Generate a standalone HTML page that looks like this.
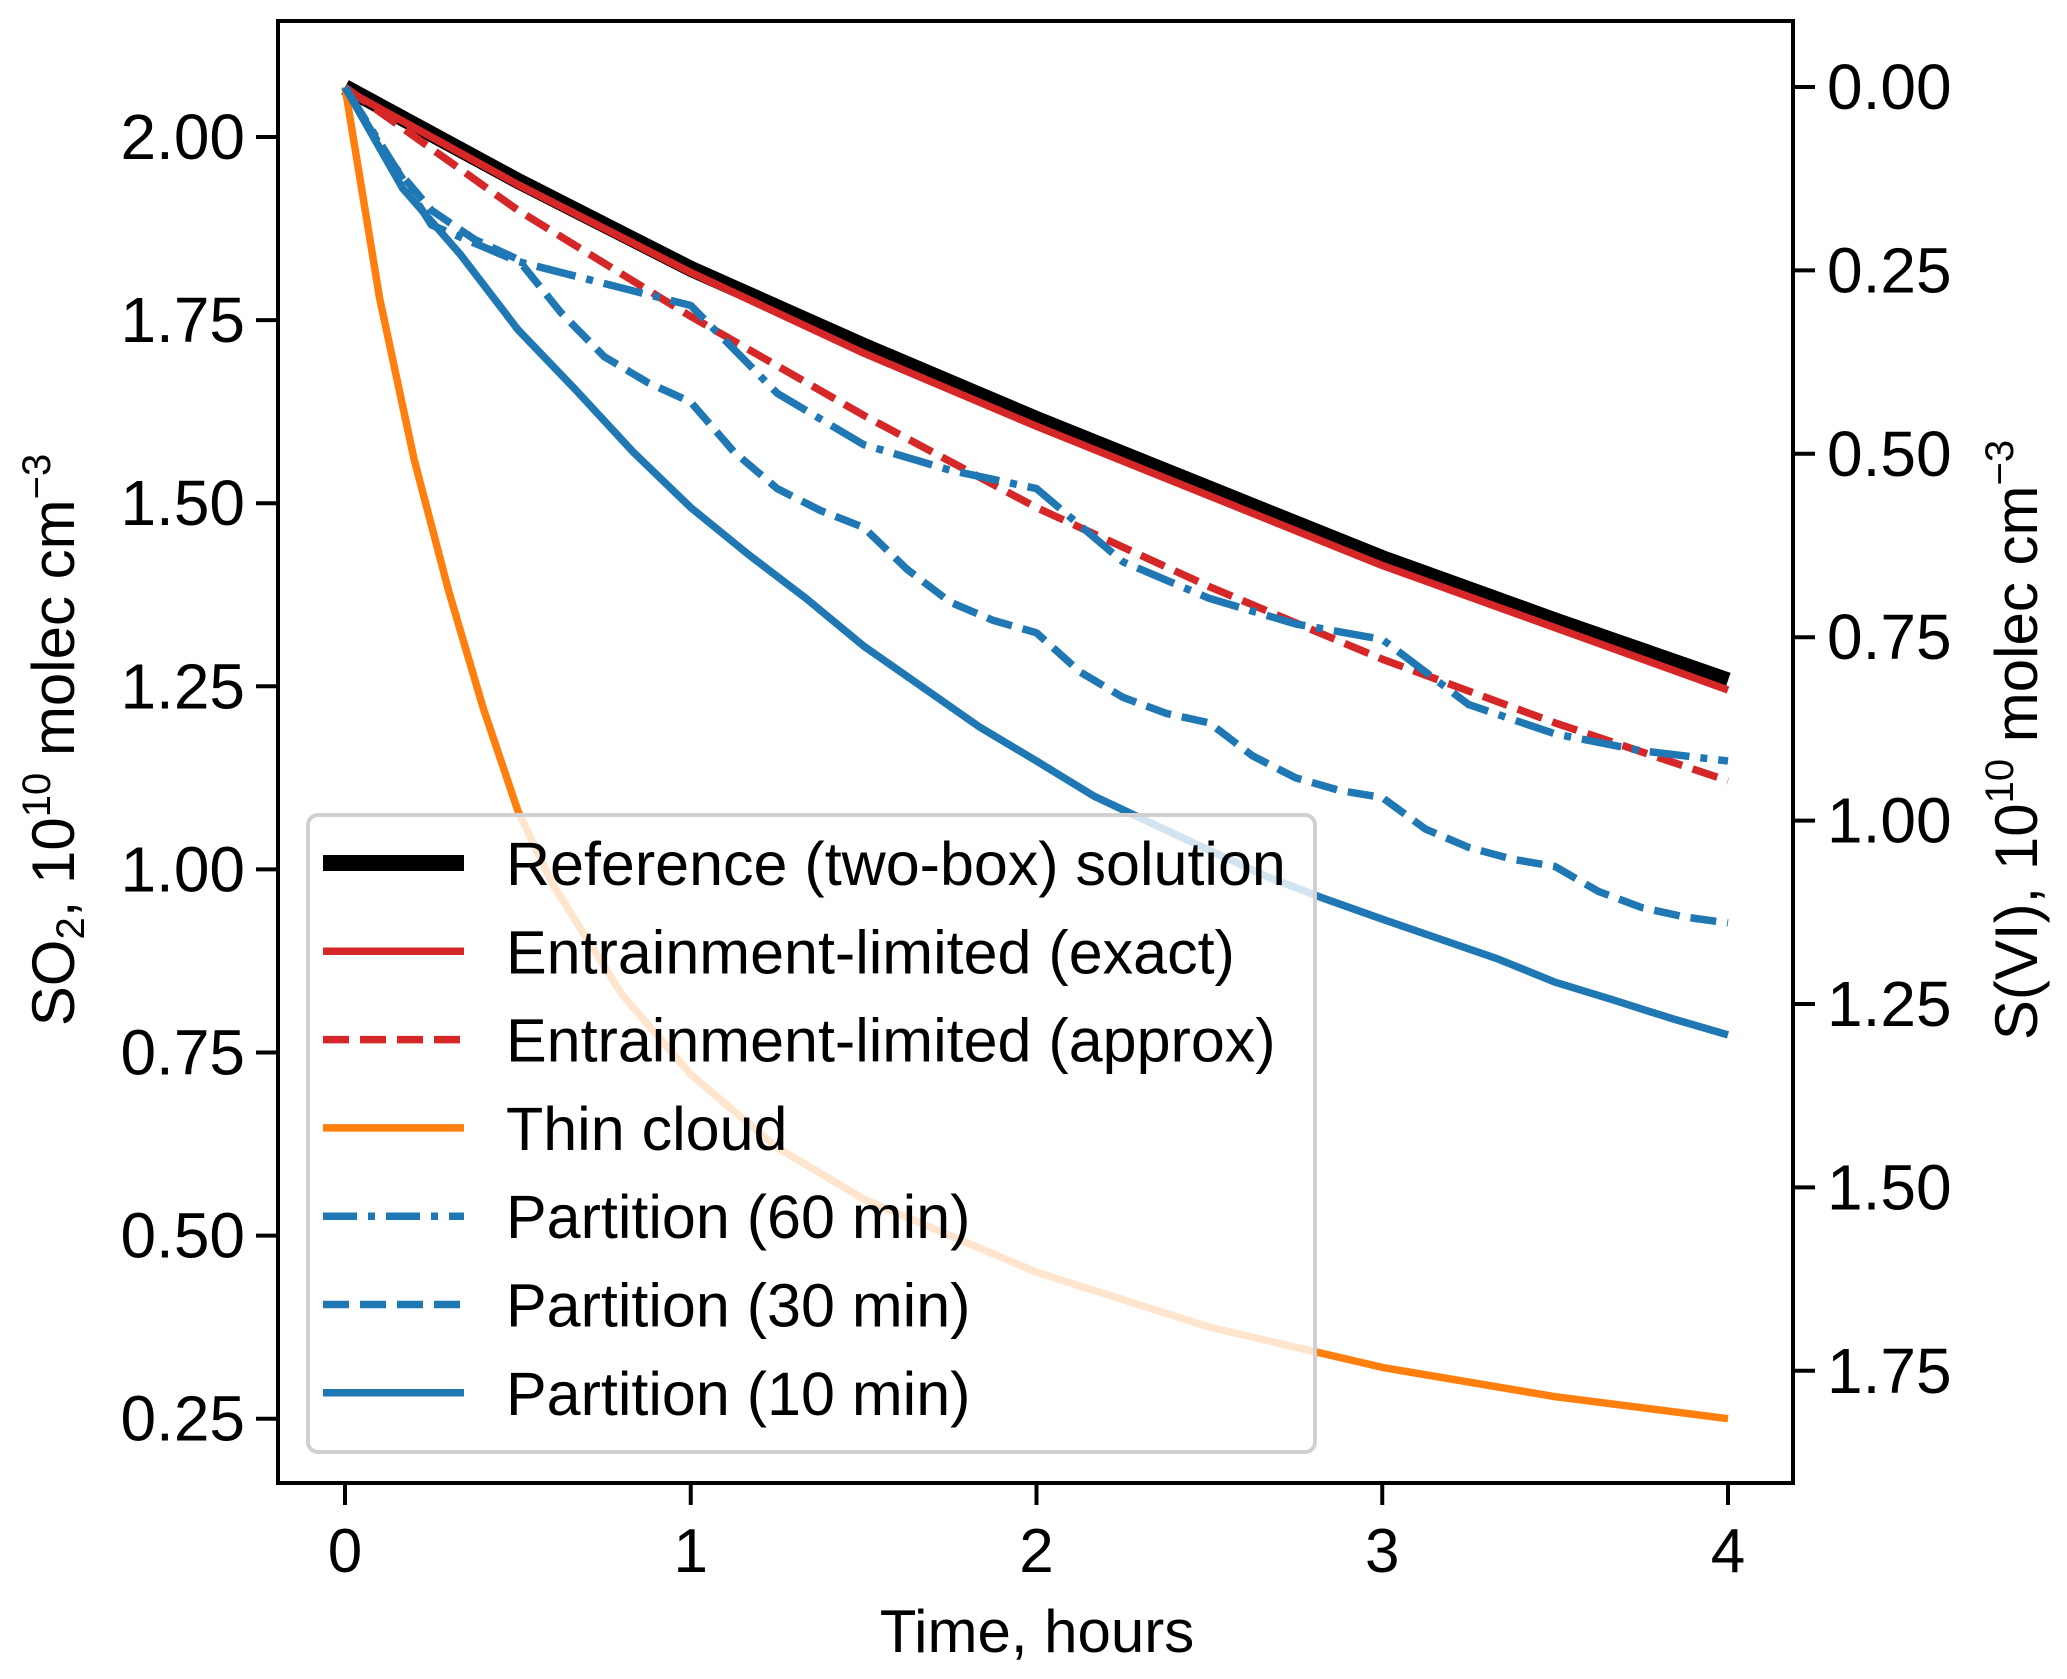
<!DOCTYPE html>
<html><head><meta charset="utf-8"><style>
html,body{margin:0;padding:0;background:#fff;}
svg{display:block;font-family:"Liberation Sans",Arial,sans-serif;}
</style></head><body>
<svg id="chart" width="2067" height="1679" viewBox="0 0 2067 1679">
<g id="plot"></g>
</svg>
<script>
// ---- data ----
const tRef = [0,0.5,1,1.5,2,2.5,3,3.5,4];
const vRef = [2.068,1.94,1.82,1.715,1.615,1.52,1.425,1.34,1.258];
const vExact = [2.065,1.935,1.815,1.705,1.605,1.51,1.415,1.33,1.245];
const vApprox = [2.068,1.90,1.755,1.62,1.494,1.386,1.287,1.20,1.121];
const tThin = [0,0.1,0.2,0.3,0.4,0.5,0.6,0.8,1,1.25,1.5,2,2.5,3,3.5,4];
const vThin = [2.068,1.78,1.56,1.38,1.22,1.08,0.98,0.83,0.72,0.62,0.55,0.45,0.375,0.32,0.28,0.25];
const t60 = [0,0.25,0.5,0.75,1,1.25,1.5,1.75,2,2.25,2.5,2.75,3,3.25,3.5,3.75,4];
const v60 = [2.068,1.88,1.83,1.80,1.77,1.65,1.58,1.545,1.52,1.42,1.37,1.335,1.314,1.225,1.185,1.162,1.148];
const t30 = [0,0.125,0.25,0.375,0.5,0.625,0.75,0.875,1,1.125,1.25,1.375,1.5,1.625,1.75,1.875,2,2.125,2.25,2.375,2.5,2.625,2.75,2.875,3,3.125,3.25,3.375,3.5,3.625,3.75,3.875,4];
const v30 = [2.068,1.97,1.90,1.86,1.833,1.76,1.70,1.665,1.638,1.57,1.52,1.49,1.467,1.41,1.365,1.34,1.323,1.27,1.235,1.213,1.2,1.155,1.125,1.108,1.098,1.055,1.03,1.014,1.004,0.97,0.948,0.935,0.927];
const t10 = [0,0.1667,0.3333,0.5,0.6667,0.8333,1,1.1667,1.3333,1.5,1.6667,1.8333,2,2.1667,2.3333,2.5,2.6667,2.8333,3,3.1667,3.3333,3.5,3.6667,3.8333,4];
const v10 = [2.068,1.93,1.84,1.737,1.655,1.57,1.494,1.43,1.37,1.305,1.25,1.195,1.148,1.10,1.063,1.026,0.99,0.96,0.932,0.905,0.878,0.846,0.822,0.797,0.774];
const xTicks = [0,1,2,3,4];
const yTicks = [2.00,1.75,1.50,1.25,1.00,0.75,0.50,0.25];
const yTicksR = [0.00,0.25,0.50,0.75,1.00,1.25,1.50,1.75];
const legendLabels = ["Reference (two-box) solution","Entrainment-limited (exact)","Entrainment-limited (approx)","Thin cloud","Partition (60 min)","Partition (30 min)","Partition (10 min)"];

// ---- axes ----
const L=278,R=1793,T=21,B=1483;
const X = t => 345 + t*345.75;
const Y = v => 137 + (2.0 - v)*732.4;
const YR = r => 87 + r*733.6;
const NS="http://www.w3.org/2000/svg";
const g=document.getElementById('plot');
function el(tag,attrs,parent){const e=document.createElementNS(NS,tag);for(const k in attrs)e.setAttribute(k,attrs[k]);(parent||g).appendChild(e);return e;}
function txt(s,attrs,parent){const e=el('text',attrs,parent);e.textContent=s;return e;}

function series(ts,vs,color,w,dash,name){
  const d=ts.map((t,i)=>(i?'L':'M')+X(t).toFixed(1)+' '+Y(vs[i]).toFixed(1)).join(' ');
  const p=el('path',{d:d,fill:'none',stroke:color,'stroke-width':w,'stroke-dasharray':dash||'none','stroke-linejoin':'round'});
  
  
}
series(tRef,vRef,'#000',16,null,'reference-line');
series(tRef,vExact,'#d62728',7.5,null,'exact-line');
series(tRef,vApprox,'#d62728',7.5,'26 11','approx-line');
series(tThin,vThin,'#ff7f0e',7.5,null,'thin-cloud-line');
series(t60,v60,'#1f77b4',7.5,'40 11 7 11','partition-60-line');
series(t30,v30,'#1f77b4',7.5,'26 11','partition-30-line');
series(t10,v10,'#1f77b4',7.5,null,'partition-10-line');

// frame
const fr=el('rect',{x:L,y:T,width:R-L,height:B-T,fill:'none',stroke:'#000','stroke-width':4});



// x ticks
xTicks.forEach(t=>{
  el('line',{x1:X(t),x2:X(t),y1:B,y2:B+22,stroke:'#000','stroke-width':4});
  const e=txt(String(t),{x:X(t),y:1572,'font-size':62,'text-anchor':'middle'});
  
  
});
yTicks.forEach(v=>{
  el('line',{x1:L-22,x2:L,y1:Y(v),y2:Y(v),stroke:'#000','stroke-width':4});
  const e=txt(v.toFixed(2),{x:245,y:Y(v)+22,'font-size':64,'text-anchor':'end'});
  
  
});
yTicksR.forEach(r=>{
  el('line',{x1:R,x2:R+22,y1:YR(r),y2:YR(r),stroke:'#000','stroke-width':4});
  const e=txt(r.toFixed(2),{x:1827,y:YR(r)+22,'font-size':64,'text-anchor':'start'});
  
  
});

// axis titles
const xt=txt('Time, hours',{x:1037,y:1652,'font-size':60,'text-anchor':'middle'});


const yl=el('text',{transform:'translate(74,740) rotate(-90)','font-size':60,'text-anchor':'middle'});
yl.innerHTML='SO<tspan font-size="40" dy="10">2</tspan><tspan dy="-10">,  10</tspan><tspan font-size="40" dy="-24">10</tspan><tspan dy="24">  molec cm</tspan><tspan font-size="40" dy="-24">−3</tspan>';


const yr=el('text',{transform:'translate(2037,740) rotate(-90)','font-size':60,'text-anchor':'middle'});
yr.innerHTML='S(VI),  10<tspan font-size="40" dy="-24">10</tspan><tspan dy="24">  molec cm</tspan><tspan font-size="40" dy="-24">−3</tspan>';



// legend
const lg=el('g',{});


el('rect',{x:308,y:815,width:1007,height:637,rx:10,fill:'#fff','fill-opacity':0.8,stroke:'#d0d0d0','stroke-width':4},lg);
const styles=[['#000',16,null],['#d62728',7.5,null],['#d62728',7.5,'26 11'],['#ff7f0e',7.5,null],['#1f77b4',7.5,'34 11 7 11'],['#1f77b4',7.5,'26 11'],['#1f77b4',7.5,null]];
legendLabels.forEach((s,i)=>{
  const y=863+i*88.3;
  el('line',{x1:323,x2:464,y1:y,y2:y,stroke:styles[i][0],'stroke-width':styles[i][1],'stroke-dasharray':styles[i][2]||'none'},lg);
  const e=txt(s,{x:506,y:y+22,'font-size':61},lg);
  
  
});
</script>
</body></html>
